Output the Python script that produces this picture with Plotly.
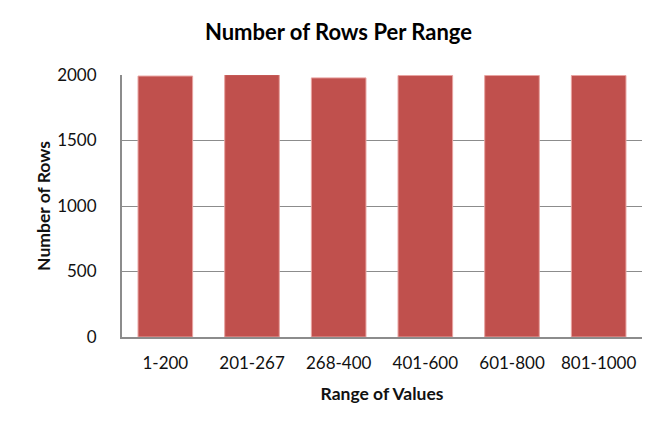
import plotly.graph_objects as go

# ranges and row counts
ranges = ['1-200', '201-267', '268-400', '401-600', '601-800', '801-1000']
rows = [1992, 2003, 1978, 1996, 1996, 1996]
y_ticks = [0, 500, 1000, 1500, 2000]

font_name = 'Lato'

fig = go.Figure()
fig.add_trace(go.Bar(x=ranges, y=rows, marker_color='#c0504d',
                     marker_line=dict(color='#e8a3a1', width=1)))

# the page body has an 8px margin, so the figure is a bit smaller than the window
fig.update_layout(
    width=648, height=413,
    title={'text': '<b>Number of Rows Per Range</b>', 'x': 0.51, 'xanchor': 'center',
           'y': 0.942, 'yanchor': 'middle',
           'font': dict(family=font_name, size=22, color='#000000')},
    plot_bgcolor='white', paper_bgcolor='white',
    margin=dict(l=114, r=14, t=67, b=84),
    bargap=0.37, showlegend=False,
    font=dict(family=font_name, size=17, color='#111111'),
)
fig.update_xaxes(showline=True, linecolor='#8c8c8c', linewidth=2, showgrid=False,
                 ticks='', ticklabelstandoff=10,
                 title=dict(text='<b>Range of Values</b>', standoff=15, font=dict(size=17.5)))
fig.update_yaxes(range=[0, 2000], tickvals=y_ticks, showline=True, linecolor='#8c8c8c', linewidth=2,
                 showgrid=True, gridcolor='#8c8c8c', gridwidth=1, zeroline=False,
                 ticks='', ticklabelstandoff=20,
                 title=dict(text='<b>Number of Rows</b>', standoff=2, font=dict(size=17.5)))

fig.write_html("out.html")
